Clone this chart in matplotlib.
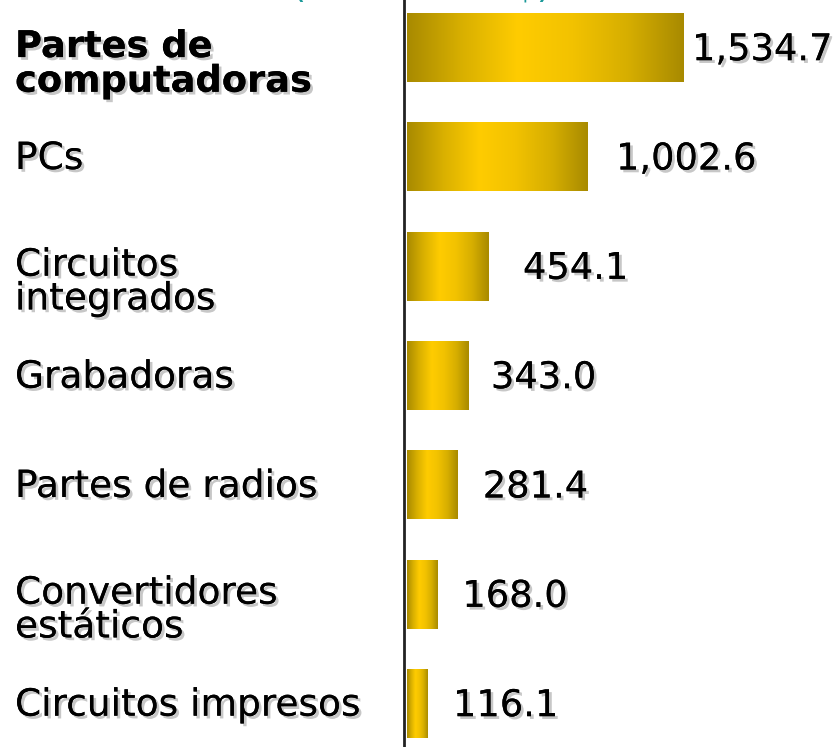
import numpy as np
import matplotlib
matplotlib.use('Agg')
import matplotlib.pyplot as plt
import matplotlib.patheffects as pe
from matplotlib.colors import LinearSegmentedColormap
from matplotlib.transforms import blended_transform_factory

# datos
categorias = ['Partes de\ncomputadoras', 'PCs', 'Circuitos\nintegrados', 'Grabadoras',
              'Partes de radios', 'Convertidores\nestáticos', 'Circuitos impresos']
valores = [1534.7, 1002.6, 454.1, 343.0, 281.4, 168.0, 116.1]
etiquetas = ['1,534.7', '1,002.6', '454.1', '343.0', '281.4', '168.0', '116.1']

# separación manual de las etiquetas de valor (px)
sep_px = [8, 28, 34, 22, 25, 25, 25]

W, H = 839, 747
fig = plt.figure(figsize=(W / 100, H / 100), dpi=100)
ax = fig.add_axes([403 / W, 0, 1 - 403 / W, 1])

escala = 277 / 1534.7  # px por unidad
x0 = -4 / escala
paso = 109.33
ax.axis('off')

# degradado dorado
oro = LinearSegmentedColormap.from_list('oro', ['#a88a00', '#d9b000', '#ffcc00', '#f2c200', '#d6ae00', '#a88a00'])
grad = np.linspace(0, 1, 256).reshape(1, -1)
alto = 0.63

shadow_txt = [pe.withSimplePatchShadow(offset=(2, -2), shadow_rgbFace='#999999', alpha=0.55), pe.Normal()]

for i, (v, lab) in enumerate(zip(valores, etiquetas)):
    ax.imshow(grad, cmap=oro, aspect='auto', extent=(0, v, i + alto / 2, i - alto / 2),
              interpolation='bicubic', zorder=2)
    ax.text(v + sep_px[i] / escala, i + 0.02, lab, fontsize=26.5, va='center', ha='left',
            color='black', path_effects=shadow_txt)

ax.set_xlim(x0, (W - 403) / escala + x0)
ax.set_ylim((H - 47.5) / paso, -47.5 / paso)

# eje vertical
ax.axvline(0 - 3 / escala, color='#222222', lw=2, zorder=3)

# etiquetas de categoría
tr = blended_transform_factory(fig.transFigure, ax.transData)
for i, cat in enumerate(categorias):
    dos = '\n' in cat
    ax.text(15 / W, i + (0.15 if dos else 0.02), cat, transform=tr, fontsize=27 if i else 26.5,
            fontweight='bold' if i == 0 else 'normal', va='center', ha='left',
            linespacing=0.92, path_effects=shadow_txt)

# título cortado en la parte superior
fig.text(421 / W, 1 + 3 / H, '(Millones US$)', color='#1a9999', fontsize=26,
         ha='center', va='baseline')

fig.savefig('out.png', dpi=100)
